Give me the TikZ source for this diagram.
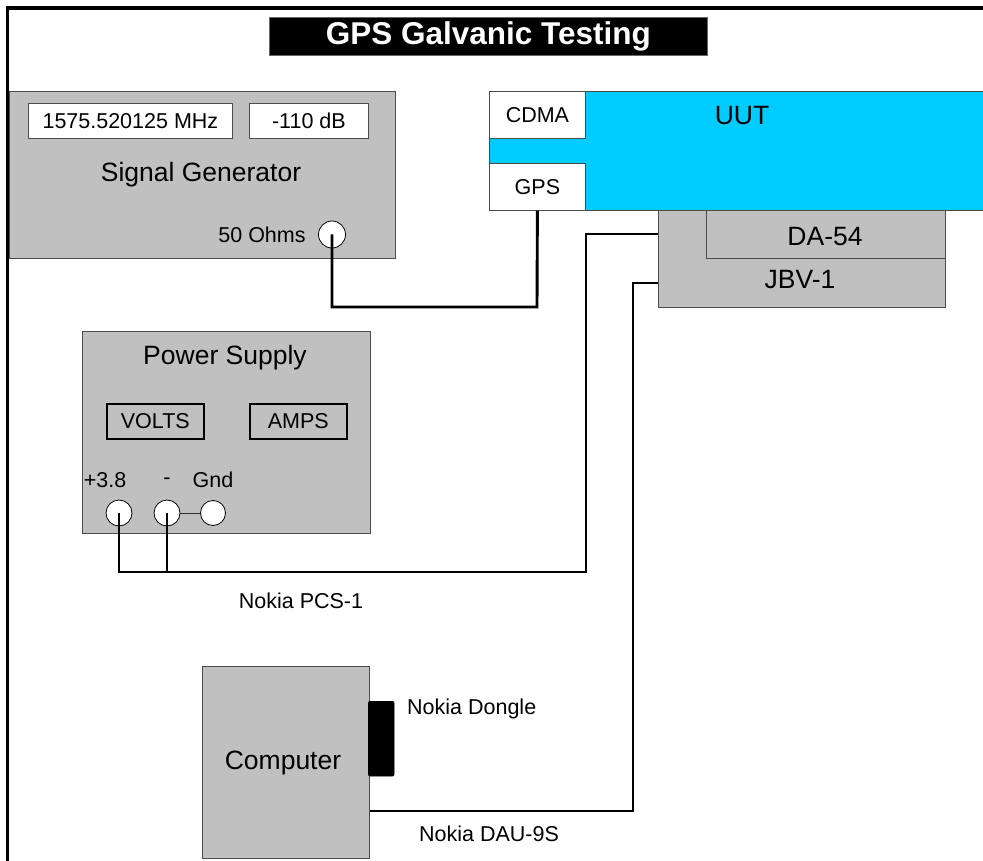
\documentclass[tikz,border=0pt]{standalone}
\usepackage{fontspec}
\setmainfont{Liberation Sans}
\definecolor{gbox}{HTML}{C0C0C0}
\definecolor{cyanbox}{HTML}{00CCFF}
\begin{document}
\begin{tikzpicture}[x=1pt,y=-1pt,
  lblS/.style={font=\fontsize{21.5}{25}\selectfont, inner sep=0pt},
  lblL/.style={font=\fontsize{26.5}{30}\selectfont, inner sep=0pt},
  unit/.style={draw=black!70, line width=0.8pt, fill=gbox, inner sep=0pt, anchor=north west},
  whitebox/.style={draw=black!70, line width=0.8pt, fill=white, inner sep=0pt, anchor=north west, font=\fontsize{21.5}{25}\selectfont},
  meter/.style={draw=black, line width=1.6pt, inner sep=0pt, anchor=north west, font=\fontsize{21.5}{25}\selectfont},
  jack/.style={circle, draw=black, line width=0.8pt, fill=white, inner sep=0pt, minimum size=26pt},
  wire/.style={draw=black, line width=2.9pt}]
\useasboundingbox (0,0) rectangle (983,861);
% frame
\draw[line width=3.5pt] (7.5,870) -- (7.5,8) -- (995,8);
% title
\node[fill=black, draw=black!60, line width=0.6pt, minimum width=438pt, minimum height=38pt, inner sep=0pt, anchor=north west,
      text=white, font=\fontsize{31.5}{36}\selectfont\bfseries] (title) at (269,17) {GPS Galvanic Testing};
% signal generator
\node[unit, minimum width=386pt, minimum height=167pt] (sg) at (9,91) {};
\node[whitebox, minimum width=204pt, minimum height=35pt] (freq) at (28,103) {1575.520125 MHz};
\node[whitebox, minimum width=119pt, minimum height=35pt] (db) at (249,103) {-110 dB};
\node[lblL] (sglbl) at (201,175) {Signal Generator};
\node[lblS] (ohms) at (262,235) {50 Ohms};
\node[jack, minimum size=27pt] (port) at (332,234.5) {};
% UUT
\node[unit, fill=cyanbox, minimum width=520pt, minimum height=119pt] (uut) at (489,91) {};
\node[whitebox, minimum width=96pt, minimum height=47pt] (cdma) at (489,91) {CDMA};
\node[whitebox, minimum width=96pt, minimum height=47pt] (gps) at (489,163) {GPS};
\node[lblL] (uutlbl) at (742,116) {UUT};
% JBV-1 and DA-54
\node[unit, minimum width=287pt, minimum height=97pt] (jbv) at (658,210) {};
\node[unit, minimum width=239pt, minimum height=48pt] (da) at (706,210) {};
\node[lblL] (dalbl) at (825,237) {DA-54};
\node[lblL] (jbvlbl) at (800,280) {JBV-1};
% power supply
\node[unit, minimum width=288pt, minimum height=202pt] (ps) at (82,331) {};
\node[lblL] (pslbl) at (225,358) {Power Supply};
\node[meter, minimum width=97pt, minimum height=35pt] (volts) at (106,403) {VOLTS};
\node[meter, minimum width=97pt, minimum height=35pt] (amps) at (249,403) {AMPS};
\node[lblS] (t38) at (105,480) {+3.8};
\node[lblS] (tneg) at (167,481) {-};
\node[lblS] (tgnd) at (213,480) {Gnd};
\node[jack] (p38) at (119,513) {};
\node[jack] (pneg) at (167,513) {};
\node[jack, minimum size=25pt] (pgnd) at (213,513) {};
\draw[line width=0.7pt, black!80] (pneg) -- (pgnd);
% computer
\node[unit, minimum width=167pt, minimum height=192pt] (comp) at (202,666) {};
\node[lblL] (complbl) at (283,763) {Computer};
\node[fill=black, draw=black, rounded corners=2pt, minimum width=26pt, minimum height=75pt, inner sep=0pt, anchor=north west] (dongle) at (368,701) {};
\node[lblS, anchor=west] (donglelbl) at (407,709) {Nokia Dongle};
% wires
\coordinate (c1) at (537,307);
\draw[wire] (port.center) |- (c1) -- (gps.south);
\coordinate (c2) at (586,572);
\coordinate (j1) at (658,234);
\draw[wire] (p38.center) |- (c2) |- (j1);
\draw[wire] (pneg.center) -- (pneg.center |- c2);
\node[lblS] (pcslbl) at (301,601) {Nokia PCS-1};
\coordinate (c3) at (633,811);
\coordinate (j2) at (658,283);
\draw[wire] (comp.east |- c3) -- (c3) |- (j2);
\node[lblS, anchor=west] (daulbl) at (419,834) {Nokia DAU-9S};
\end{tikzpicture}
\end{document}
